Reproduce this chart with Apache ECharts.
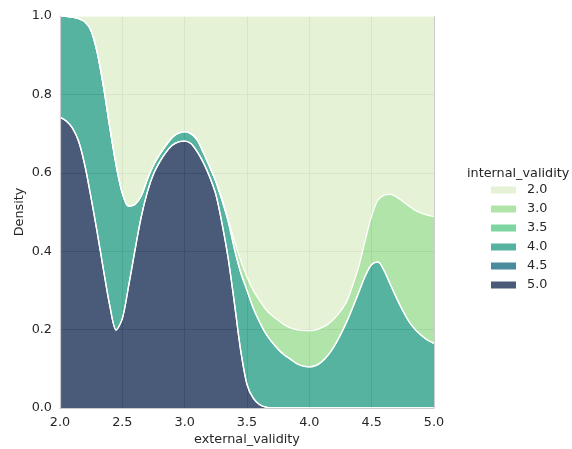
<!DOCTYPE html>
<html>
<head>
<meta charset="utf-8">
<script src="https://cdn.jsdelivr.net/npm/echarts@6/dist/echarts.min.js"></script>
<style>html,body{margin:0;padding:0;background:#fff}#c{width:572px;height:449px}</style>
</head>
<body>
<div id="c"></div>
<script>
// x grid of the density estimate (external_validity)
const xGrid = [2.00,2.05,2.10,2.15,2.20,2.25,2.30,2.35,2.40,2.45,2.50,2.55,2.60,2.65,2.70,2.75,2.80,2.85,2.90,2.95,
  3.00,3.05,3.10,3.15,3.20,3.25,3.30,3.35,3.40,3.45,3.50,3.55,3.60,3.65,3.70,3.75,3.80,3.85,3.90,3.95,
  4.00,4.05,4.10,4.15,4.20,4.25,4.30,4.35,4.40,4.45,4.50,4.55,4.60,4.65,4.70,4.75,4.80,4.85,4.90,4.95,5.00];
// cumulative fill boundaries (top edge of each level's band)
const top50 = [0.742,0.732,0.714,0.680,0.618,0.535,0.445,0.350,0.260,0.199,0.228,0.310,0.400,0.485,0.550,0.597,0.628,0.652,0.670,0.679,
  0.681,0.675,0.654,0.626,0.590,0.545,0.470,0.380,0.265,0.145,0.060,0.025,0.009,0.002,0,0,0,0,0,0,
  0,0,0,0,0,0,0,0,0,0,0,0,0,0,0,0,0,0,0,0,0];
const top40 = [1.000,0.999,0.997,0.993,0.985,0.962,0.905,0.818,0.715,0.620,0.548,0.515,0.519,0.540,0.583,0.620,0.647,0.670,0.690,0.701,
  0.705,0.700,0.684,0.652,0.616,0.578,0.530,0.475,0.405,0.345,0.300,0.255,0.220,0.190,0.168,0.150,0.135,0.124,0.113,0.107,
  0.105,0.108,0.118,0.135,0.158,0.187,0.220,0.258,0.298,0.338,0.366,0.373,0.350,0.315,0.280,0.248,0.220,0.200,0.185,0.173,0.165];
const top30 = [1.000,0.999,0.997,0.993,0.985,0.962,0.905,0.818,0.715,0.620,0.548,0.515,0.519,0.540,0.583,0.620,0.647,0.670,0.690,0.701,
  0.705,0.700,0.684,0.652,0.616,0.578,0.532,0.480,0.425,0.375,0.335,0.300,0.275,0.252,0.236,0.224,0.212,0.204,0.200,0.198,
  0.197,0.199,0.205,0.214,0.228,0.247,0.272,0.315,0.365,0.430,0.490,0.530,0.543,0.545,0.538,0.527,0.515,0.504,0.497,0.492,0.488];
const levels = ['2.0','3.0','3.5','4.0','4.5','5.0'];
const xTicks = ['2.0','2.5','3.0','3.5','4.0','4.5','5.0'];
const yTicks = ['0.0','0.2','0.4','0.6','0.8','1.0'];

const baseColor = {'2.0':'#deeec7','3.0':'#96db8b','3.5':'#52c87f','4.0':'#1e9a80','4.5':'#0e667b','5.0':'#0e244e'};
const legendColor = {'2.0':'#e6f2d5','3.0':'#b0e4a8','3.5':'#7dd69f','4.0':'#56b3a0','4.5':'#4a8c9c','5.0':'#4a5b7a'};

const layerVals = {
  '5.0': top50,
  '4.5': top50.map(() => 0),
  '4.0': top40.map((v, i) => Math.max(0, v - top50[i])),
  '3.5': top40.map(() => 0),
  '3.0': top30.map((v, i) => Math.max(0, v - top40[i])),
  '2.0': top30.map(v => Math.max(0, 1 - v))
};
const stackOrder = ['5.0','4.5','4.0','3.5','3.0','2.0'];

// data stored as [share, x] so that the stacked dimension is the share (y)
const series = stackOrder.map(lv => ({
  name: lv, type: 'line', stack: 'fill', stackStrategy: 'all', smooth: 0.3, symbol: 'none',
  xAxisIndex: 0, yAxisIndex: 0,
  dimensions: ['share', 'x'],
  encode: {x: 1, y: 0},
  data: xGrid.map((x, i) => [layerVals[lv][i], x]),
  lineStyle: {color: '#ffffff', width: 1.3},
  itemStyle: {color: legendColor[lv]},
  areaStyle: {color: baseColor[lv], opacity: 0.75},
  emphasis: {disabled: true}
}));

const font = 'DejaVu Sans';
const fs = 12.8;
const chart = echarts.init(document.getElementById('c'), null, {renderer: 'canvas'});
chart.setOption({
  animation: false,
  backgroundColor: '#ffffff',
  textStyle: {fontFamily: font},
  grid: {left: 60, right: 138, top: 16, bottom: 41, containLabel: false, outerBoundsMode: 'none'},
  xAxis: [
    {type: 'value', min: 2, max: 5, interval: 0.5, z: 0,
     axisLine: {show: false}, axisTick: {show: false}, axisLabel: {show: false},
     splitLine: {show: true, lineStyle: {color: '#cccccc', width: 1}}},
    {type: 'value', min: 2, max: 5, interval: 0.5, position: 'bottom', z: 5,
     name: 'external_validity', nameLocation: 'middle', nameGap: 25, nameMoveOverlap: false,
     nameTextStyle: {color: '#262626', fontSize: fs, fontFamily: font},
     axisLine: {show: true, lineStyle: {color: '#cccccc', width: 1.2}},
     axisTick: {show: false}, splitLine: {show: false},
     axisLabel: {color: '#262626', fontSize: fs, fontFamily: font, margin: 8,
       formatter: v => xTicks[Math.round((v - 2) / 0.5)]}}
  ],
  yAxis: [
    {type: 'value', min: 0, max: 1, interval: 0.2, z: 0,
     axisLine: {show: false}, axisTick: {show: false}, axisLabel: {show: false},
     splitLine: {show: true, lineStyle: {color: '#cccccc', width: 1}}},
    {type: 'value', min: 0, max: 1, interval: 0.2, position: 'left', z: 5,
     name: 'Density', nameLocation: 'middle', nameGap: 34, nameMoveOverlap: false,
     nameTextStyle: {color: '#262626', fontSize: fs, fontFamily: font},
     axisLine: {show: true, lineStyle: {color: '#cccccc', width: 1.2}},
     axisTick: {show: false}, splitLine: {show: false},
     axisLabel: {color: '#262626', fontSize: fs, fontFamily: font, margin: 8,
       formatter: v => yTicks[Math.round(v / 0.2)]}}
  ],
  legend: {
    orient: 'vertical', left: 491, top: 183, padding: 0, icon: 'rect',
    itemWidth: 25, itemHeight: 7, itemGap: 5,
    textStyle: {color: '#262626', fontSize: fs, fontFamily: font, lineHeight: 14, padding: [0, 0, 0, 6]},
    data: levels.map(lv => ({name: lv, itemStyle: {color: legendColor[lv], borderWidth: 0}})),
    selectedMode: false
  },
  graphic: [{type: 'text', left: 467, top: 167,
    style: {text: 'internal_validity', fill: '#262626', font: fs + 'px "DejaVu Sans"'}}],
  series: series
});
</script>
</body>
</html>
